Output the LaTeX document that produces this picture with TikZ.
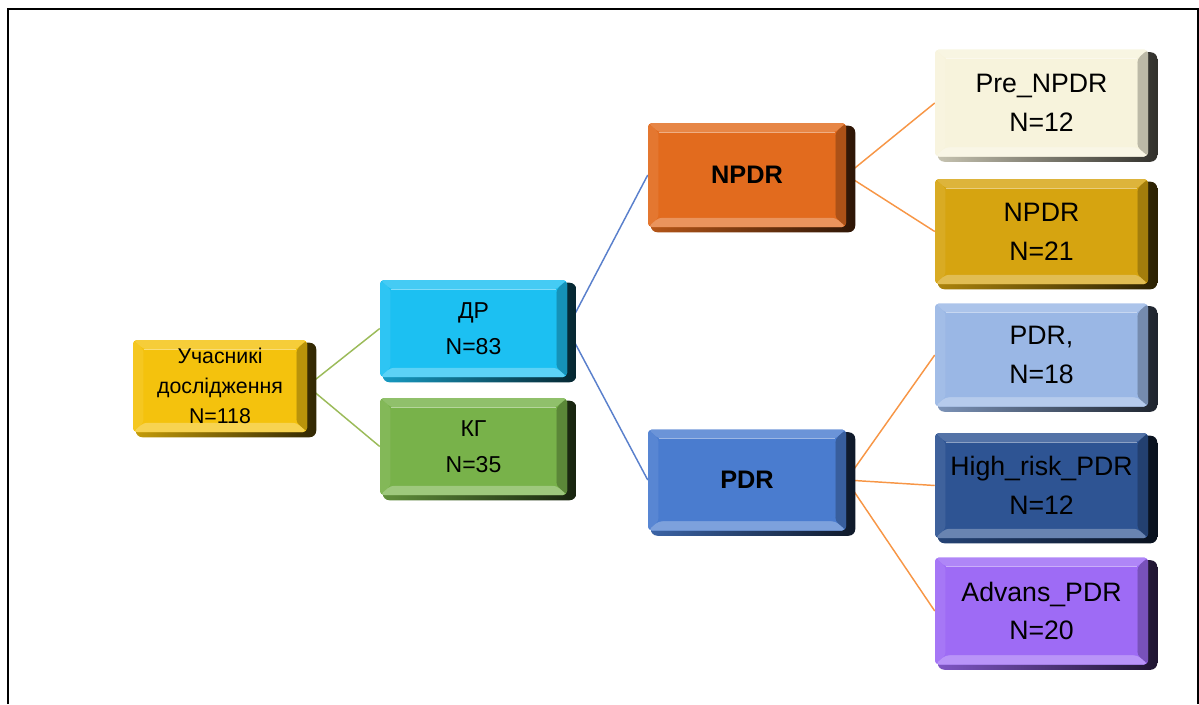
\documentclass[tikz,border=0pt]{standalone}
\usepackage{fontspec}
\setmainfont{Liberation Sans}
\pgfdeclarelayer{lines}
\pgfdeclarelayer{bg}
\pgfsetlayers{lines,bg,main}
\definecolor{cRoot}{HTML}{F4C20D}
\definecolor{cDR}{HTML}{1CC0F2}
\definecolor{cKG}{HTML}{78B24A}
\definecolor{cNPDR}{HTML}{E26B1E}
\definecolor{cPre}{HTML}{F7F3DC}
\definecolor{cNPDRb}{HTML}{D6A410}
\definecolor{cPDRa}{HTML}{9AB7E5}
\definecolor{cHigh}{HTML}{2E5493}
\definecolor{cAdv}{HTML}{9E6BF5}
\definecolor{cPDR}{HTML}{4A7CCF}
\definecolor{lGreen}{HTML}{9BBB59}
\definecolor{lBlue}{HTML}{5A80CC}
\definecolor{lOrange}{HTML}{F79646}
\tikzset{
  bevbox/.style={rectangle, rounded corners=3pt, fill=#1, text=black, align=center, inner sep=0pt,
    path picture={
      \coordinate (pnw) at (path picture bounding box.north west);
      \coordinate (pse) at (path picture bounding box.south east);
      \coordinate (pne) at (path picture bounding box.north east);
      \coordinate (psw) at (path picture bounding box.south west);
      \fill[#1!82!white] (pnw) -- (pne) -- ([shift={(-8pt,-7pt)}]pne) -- ([shift={(8pt,-7pt)}]pnw) -- cycle;
      \fill[#1!92!white] (pnw) -- ([shift={(8pt,-7pt)}]pnw) -- ([shift={(8pt,7pt)}]psw) -- (psw) -- cycle;
      \fill[#1!76!black] (pne) -- (pse) -- ([shift={(-8pt,7pt)}]pse) -- ([shift={(-8pt,-7pt)}]pne) -- cycle;
      \fill[#1!72!white] (psw) -- (pse) -- ([shift={(-8pt,7pt)}]pse) -- ([shift={(8pt,7pt)}]psw) -- cycle;
      \fill[#1] ([shift={(8pt,-7pt)}]pnw) rectangle ([shift={(-8pt,7pt)}]pse);
      \draw[#1!55!white, line width=0.9pt] ([shift={(8pt,-7pt)}]pnw) -- ([shift={(-8pt,-7pt)}]pne);
    }},
  conn/.style={line width=1.1pt}
}
\begin{document}
\begin{tikzpicture}[x=0.75pt,y=-0.75pt]
\useasboundingbox (0,0) rectangle (1199,704);
% frame
\draw[line width=1.5pt] (8,704) -- (8,9);
\draw[line width=0.8pt] (7,9) -- (1198,9) -- (1198,704);
% boxes
\node[bevbox=cRoot, minimum width=174*0.75pt, minimum height=92*0.75pt,
  font=\fontsize{16}{22.5}\selectfont] (root) at (220,386) {Учасникі\\дослідження\\N=118};
\node[bevbox=cDR, minimum width=187*0.75pt, minimum height=97*0.75pt,
  font=\fontsize{17.25}{27}\selectfont] (dr) at (473.5,328.5) {ДР\\N=83};
\node[bevbox=cKG, minimum width=187*0.75pt, minimum height=97*0.75pt,
  font=\fontsize{17.25}{27}\selectfont] (kg) at (473.5,446.5) {КГ\\N=35};
\node[bevbox=cNPDR, minimum width=198*0.75pt, minimum height=104*0.75pt,
  font=\fontsize{19}{24}\selectfont\bfseries] (npdr) at (747,175) {NPDR};
\node[bevbox=cPDR, minimum width=198*0.75pt, minimum height=101*0.75pt,
  font=\fontsize{19}{24}\selectfont\bfseries] (pdr) at (747,480) {PDR};
\node[bevbox=cPre, minimum width=213*0.75pt, minimum height=107*0.75pt,
  font=\fontsize{20}{29}\selectfont] (pre) at (1041.5,103) {Pre\_NPDR\\N=12};
\node[bevbox=cNPDRb, minimum width=213*0.75pt, minimum height=105*0.75pt,
  font=\fontsize{20}{29}\selectfont] (npdrb) at (1041.5,231.5) {NPDR\\N=21};
\node[bevbox=cPDRa, minimum width=213*0.75pt, minimum height=103*0.75pt,
  font=\fontsize{20}{29}\selectfont] (pdra) at (1041.5,355) {PDR,\\N=18};
\node[bevbox=cHigh, minimum width=213*0.75pt, minimum height=105*0.75pt,
  font=\fontsize{20}{29}\selectfont] (high) at (1041.5,485.5) {High\_risk\_PDR\\N=12};
\node[bevbox=cAdv, minimum width=213*0.75pt, minimum height=107*0.75pt,
  font=\fontsize{20}{29}\selectfont] (adv) at (1041.5,611) {Advans\_PDR\\N=20};
% extrusions
\begin{pgfonlayer}{bg}
\foreach \n/\c in {root/cRoot,dr/cDR,kg/cKG,npdr/cNPDR,pdr/cPDR,pre/cPre,npdrb/cNPDRb,pdra/cPDRa,high/cHigh,adv/cAdv}{
  \shade[rounded corners=5pt, left color=\c!80!black, right color=\c!20!black]
    ([shift={(2.25pt,-2.25pt)}]\n.north west) rectangle ([shift={(6.75pt,-3.75pt)}]\n.south east);
}
\end{pgfonlayer}
% connectors
\begin{pgfonlayer}{lines}
\draw[conn, lGreen] (root.east) -- (dr.west);
\draw[conn, lGreen] (root.east) -- (kg.west);
\draw[conn, lBlue] (dr.east) -- (npdr.west);
\draw[conn, lBlue] (dr.east) -- (pdr.west);
\draw[conn, lOrange] (npdr.east) -- (pre.west);
\draw[conn, lOrange] (npdr.east) -- (npdrb.west);
\draw[conn, lOrange] (pdr.east) -- (pdra.west);
\draw[conn, lOrange] (pdr.east) -- (high.west);
\draw[conn, lOrange] (pdr.east) -- (adv.west);
\end{pgfonlayer}
\end{tikzpicture}
\end{document}
